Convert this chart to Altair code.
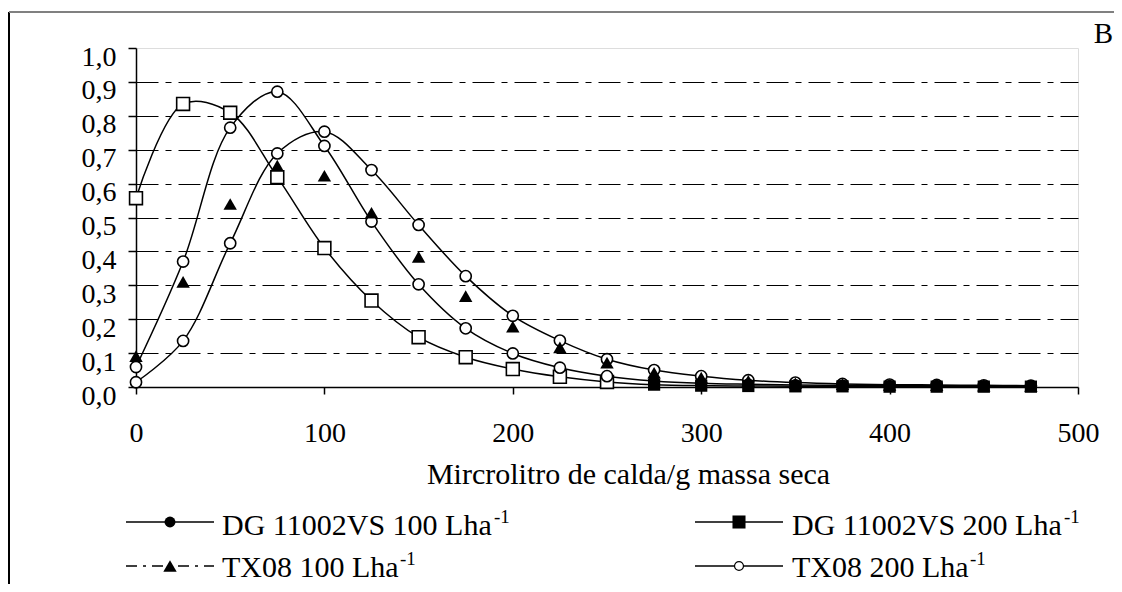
import altair as alt
import pandas as pd

# ---------------- data ----------------
x_vals = [0, 25, 50, 75, 100, 125, 150, 175, 200, 225, 250, 275, 300, 325, 350, 375, 400, 425, 450, 475]
sq_vals = [0.557, 0.835, 0.809, 0.619, 0.410, 0.255, 0.147, 0.088, 0.053, 0.030, 0.015,
           0.007, 0.004, 0.003, 0.002, 0.002, 0.001, 0.001, 0.001, 0.001]
c1_vals = [0.059, 0.370, 0.765, 0.871, 0.711, 0.488, 0.303, 0.173, 0.099, 0.057, 0.032,
           0.018, 0.011, 0.008, 0.006, 0.005, 0.004, 0.004, 0.003, 0.003]
c2_vals = [0.014, 0.136, 0.424, 0.689, 0.753, 0.640, 0.478, 0.327, 0.210, 0.137, 0.082,
           0.050, 0.032, 0.020, 0.013, 0.009, 0.007, 0.006, 0.005, 0.004]
tri_vals = [0.091, 0.310, 0.540, 0.653, 0.623, 0.514, 0.384, 0.268, 0.178, 0.117, 0.072,
            0.042, 0.028, 0.018, 0.011, 0.008, 0.006, 0.005, 0.004, 0.003]

x_ticks = [0, 100, 200, 300, 400, 500]
y_ticks = [0.0, 0.1, 0.2, 0.3, 0.4, 0.5, 0.6, 0.7, 0.8, 0.9, 1.0]
x_title = "Mircrolitro de calda/g massa seca"
legend_labels = ["DG 11002VS 100 Lha", "DG 11002VS 200 Lha", "TX08 100 Lha", "TX08 200 Lha"]
legend_sup = "-1"
panel_letter = "B"

rows = []
for name, vals in [("sq", sq_vals), ("c1", c1_vals), ("c2", c2_vals), ("tri", tri_vals)]:
    for xv, yv in zip(x_vals, vals):
        rows.append({"x": xv, "y": yv, "series": name})
df = pd.DataFrame(rows)

FONT = "Liberation Serif, Times New Roman, Times, serif"
W, H = 942, 339

x_enc = alt.X("x:Q", scale=alt.Scale(domain=[0, 500], nice=False),
              axis=alt.Axis(values=x_ticks, title=x_title, grid=False,
                            labelFont=FONT, labelFontSize=28, labelColor="black",
                            labelBaseline="alphabetic", labelPadding=47,
                            labelFlush=False, labelOverlap=False,
                            tickSize=7, tickColor="black", tickWidth=1.5,
                            domainColor="black", domainWidth=1.5,
                            titleFont=FONT, titleFontSize=30, titleFontWeight="normal",
                            titleColor="black", titleBaseline="alphabetic",
                            titleX=492, titleY=96, titleAlign="center"))
y_enc = alt.Y("y:Q", scale=alt.Scale(domain=[0, 1], nice=False),
              axis=alt.Axis(values=y_ticks, title=None,
                            labelExpr="replace(format(datum.value, '.1f'), '.', ',')",
                            labelFont=FONT, labelFontSize=28, labelColor="black",
                            labelBaseline="alphabetic", labelOffset=17, labelPadding=12,
                            tickSize=8, tickColor="black", tickWidth=1.5,
                            domainColor="black", domainWidth=1.5,
                            grid=True, gridColor="black", gridWidth=1,
                            gridDash=[22, 7, 6, 7],
                            gridOpacity={"condition": {"test": "datum.value >= 0.95 || datum.value <= 0.05", "value": 0}, "value": 1}))

base = alt.Chart(df)

lines = base.transform_filter("datum.series !== 'tri'").mark_line(
    interpolate="catmull-rom", color="black", strokeWidth=1.5
).encode(x=x_enc, y=y_enc, detail="series:N")

open_sq = base.transform_filter("datum.series === 'sq' && datum.x <= 250").mark_point(
    shape="square", size=165, filled=True, fill="white", stroke="black", strokeWidth=1.6, opacity=1
).encode(x=x_enc, y=y_enc)

open_c = base.transform_filter("(datum.series === 'c1' && datum.x <= 250) || datum.series === 'c2'").mark_point(
    shape="circle", size=125, filled=True, fill="white", stroke="black", strokeWidth=1.6, opacity=1
).encode(x=x_enc, y=y_enc)

fill_sq = base.transform_filter("datum.series === 'sq' && datum.x > 250").mark_point(
    shape="square", size=150, filled=True, color="black", opacity=1
).encode(x=x_enc, y=y_enc)

fill_c = base.transform_filter("datum.series === 'c1' && datum.x > 250").mark_point(
    shape="circle", size=140, filled=True, color="black", opacity=1
).encode(x=x_enc, y=y_enc)

tri = base.transform_filter("datum.series === 'tri'").mark_point(
    shape="triangle-up", size=180, filled=True, color="black", opacity=1
).encode(x=x_enc, y=y_enc)

one = pd.DataFrame({"k": [0]})


def hline(x0, x1, y, color="black", width=1.5, dash=None):
    kw = dict(color=color, strokeWidth=width)
    if dash:
        kw["strokeDash"] = dash
    return alt.Chart(one).mark_rule(**kw).encode(
        x=alt.value(x0), x2=alt.value(x1), y=alt.value(y))


def vline(x, y0, y1, color="black", width=2):
    return alt.Chart(one).mark_rule(color=color, strokeWidth=width).encode(
        x=alt.value(x), y=alt.value(y0), y2=alt.value(y1))


def txt(s, x, y, size=30, align="left"):
    return alt.Chart(one).mark_text(text=s, font=FONT, fontSize=size, color="black",
                                    align=align, baseline="alphabetic").encode(
        x=alt.value(x), y=alt.value(y))


def marker(x, y, shape, filled, size):
    if filled:
        m = alt.Chart(one).mark_point(shape=shape, size=size, filled=True, color="black", opacity=1)
    else:
        m = alt.Chart(one).mark_point(shape=shape, size=size, filled=True, fill="white",
                                      stroke="black", strokeWidth=1.2, opacity=1)
    return m.encode(x=alt.value(x), y=alt.value(y))


# frame of the chart area
frame = [vline(-127, -36, 600, color="black", width=2),
         hline(-127, 1000, -36, color="#808080", width=2)]

# legend (plot-area pixel offsets)
LX0, LX1, LXM, LTX = -10, 78, 34, 86
RX0, RX1, RXM, RTX = 559, 647, 603, 656
R1, R2 = 474, 518          # line / marker centre of each legend row
B1, B2 = 487, 529          # text baseline of each legend row
FS = 30
W_LONG, W_SHORT = round(9.027 * FS), round(5.888 * FS)
SUP = 12
legend = [
    hline(LX0, LX1, R1), marker(LXM, R1, "circle", True, 120),
    txt(legend_labels[0], LTX, B1, size=FS), txt(legend_sup, LTX + W_LONG + 1, B1 - SUP, size=19),
    hline(RX0, RX1, R1), marker(RXM, R1, "square", True, 170),
    txt(legend_labels[1], RTX, B1, size=FS), txt(legend_sup, RTX + W_LONG + 1, B1 - SUP, size=19),
    hline(LX0, LX1, R2, dash=[11, 6, 3, 6]), marker(LXM, R2, "triangle-up", True, 180),
    txt(legend_labels[2], LTX, B2, size=FS), txt(legend_sup, LTX + W_SHORT + 1, B2 - SUP, size=19),
    hline(RX0, RX1, R2), marker(RXM, R2, "circle", False, 80),
    txt(legend_labels[3], RTX, B2, size=FS), txt(legend_sup, RTX + W_SHORT + 1, B2 - SUP, size=19),
]

letter = txt(panel_letter, 977, -5, size=29, align="right")

chart = alt.layer(
    *frame, lines, open_sq, open_c, fill_sq, fill_c, tri, *legend, letter
).properties(
    width=W, height=H,
    autosize=alt.AutoSizeParams(type="none"),
    padding={"left": 128, "top": 40, "right": 36, "bottom": 197},
).configure_view(
    stroke="#808080", strokeWidth=2
).configure(background="white")

chart.save("out.html", embed_options={"renderer": "svg", "actions": False})
